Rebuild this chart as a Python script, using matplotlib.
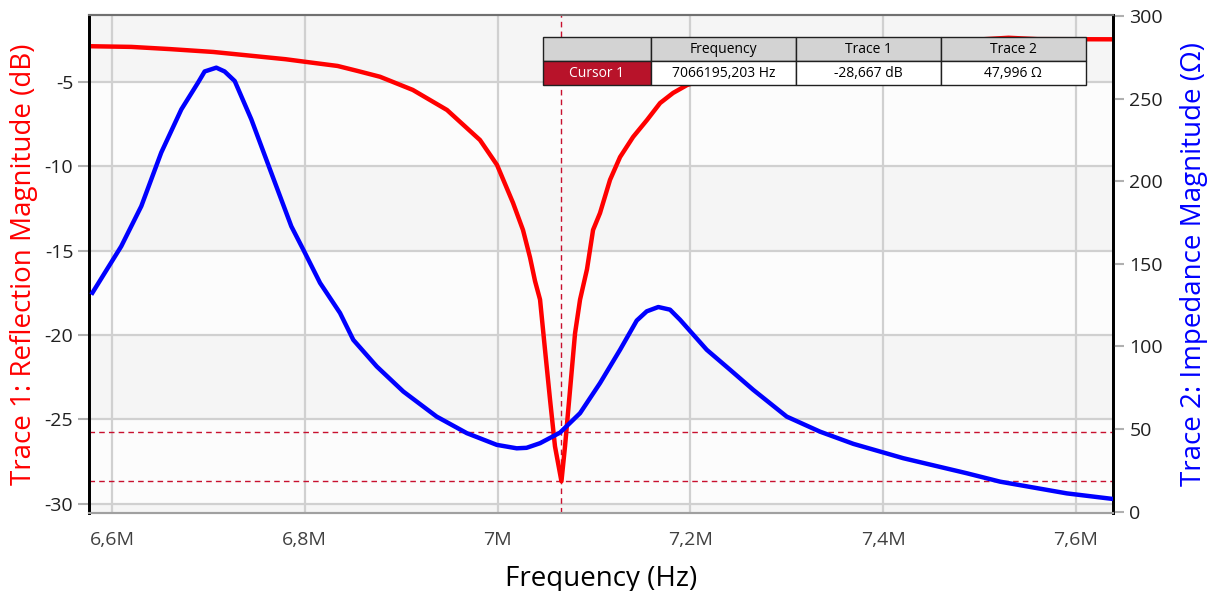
import numpy as np
import matplotlib.pyplot as plt
from matplotlib.ticker import FuncFormatter, MultipleLocator

plt.rcParams['font.family'] = ['Open Sans', 'DejaVu Sans']
plt.rcParams['axes.unicode_minus'] = False

# Trace 1: reflection magnitude (dB) vs frequency (MHz)
refl_freq = [6.577, 6.62, 6.66, 6.705, 6.74, 6.78, 6.80, 6.834, 6.855, 6.878,
             6.912, 6.9475, 6.9817, 6.9994, 7.016, 7.0263, 7.0336, 7.0388,
             7.044, 7.0492, 7.0544, 7.0595, 7.0662, 7.0699, 7.0751, 7.0803,
             7.0855, 7.0927, 7.099, 7.1062, 7.1166, 7.127, 7.1405, 7.155,
             7.1685, 7.182, 7.1965, 7.25, 7.30, 7.38, 7.45, 7.50, 7.53,
             7.56, 7.639]
refl_db = [-2.88, -2.92, -3.05, -3.22, -3.42, -3.65, -3.80, -4.05, -4.35, -4.69,
           -5.47, -6.66, -8.44, -9.92, -12.17, -13.77, -15.4, -16.8,
           -17.9, -20.9, -23.85, -26.6, -28.667, -26.6, -23.26, -19.9,
           -17.9, -16.1, -13.77, -12.77, -10.8, -9.45, -8.26, -7.25,
           -6.25, -5.65, -5.18, -4.2, -3.6, -3.0, -2.6, -2.48, -2.38,
           -2.46, -2.47]

# Trace 2: impedance magnitude (ohm) vs frequency (MHz)
imp_freq = [6.5785, 6.6096, 6.6304, 6.6511, 6.6719, 6.6892, 6.6961, 6.7082,
            6.7168, 6.7273, 6.7445, 6.7652, 6.786, 6.7984, 6.8158, 6.8365,
            6.8503, 6.8746, 6.9022, 6.9368, 6.968, 6.9991, 7.0198, 7.030,
            7.044, 7.0647, 7.0855, 7.1062, 7.127, 7.1443, 7.1547, 7.1667,
            7.1788, 7.1892, 7.2169, 7.2411, 7.2652, 7.2999, 7.3344, 7.369,
            7.4208, 7.4866, 7.5212, 7.5904, 7.6384]
imp_ohm = [131.4, 160.7, 185.0, 217.5, 243.6, 259.8, 266.6, 268.9,
           266.6, 260.8, 237.6, 205.2, 172.8, 158.7, 138.5, 120.3,
           104.0, 87.9, 72.7, 57.5, 47.5, 40.4, 38.3, 38.6,
           41.4, 47.8, 59.6, 77.8, 98.0, 115.7, 121.3, 123.9,
           122.3, 116.2, 98.0, 85.9, 73.7, 57.5, 48.4, 41.0,
           32.3, 23.2, 18.1, 11.0, 7.6]

# Cursor readout
cursor_hz = 7066195.203
cursor_db = -28.667
cursor_ohm = 47.996

table_cols = ['', 'Frequency', 'Trace 1', 'Trace 2']
table_row = ['Cursor 1', '7066195,203 Hz', '-28,667 dB', '47,996 \u03a9']

fig = plt.figure(figsize=(12.09, 5.91), dpi=100)
ax = fig.add_axes([0.0739, 0.1325, 0.8470, 0.8421])
ax2 = ax.twinx()

xmin, xmax = 6.5765e6, 7.6387e6
ax.set_xlim(xmin, xmax)
ax.set_ylim(-30.53, -1.03)
ax2.set_ylim(-0.7, 300.8)

# alternating background bands between the dB grid lines
edges = [-30.53, -30, -25, -20, -15, -10, -5, -1.03]
for i in range(len(edges) - 1):
    c = '#f5f5f5' if i % 2 == 0 else '#fcfcfc'
    ax.axhspan(edges[i], edges[i + 1], color=c, zorder=0, lw=0)

ax.set_axisbelow(True)
ax.grid(True, color='#d0d0d0', lw=1.6)
ax.xaxis.set_major_locator(MultipleLocator(0.2e6))
ax.yaxis.set_major_locator(MultipleLocator(5))
ax2.yaxis.set_major_locator(MultipleLocator(50))


def mhz_fmt(v, pos):
    s = f'{v / 1e6:.1f}'.rstrip('0').rstrip('.')
    return s.replace('.', ',') + 'M'


ax.xaxis.set_major_formatter(FuncFormatter(mhz_fmt))

hz_refl = np.array(refl_freq) * 1e6
hz_imp = np.array(imp_freq) * 1e6

# cursor markers
dash = dict(color='#c8102e', lw=1.0, ls=(0, (4, 3)))
ax.axvline(cursor_hz, zorder=2, **dash)
ax.axhline(cursor_db, zorder=2, **dash)
ax2.axhline(cursor_ohm, zorder=2, **dash)

ax.plot(hz_refl, refl_db, color='#ff0000', lw=3.2, zorder=3,
        solid_joinstyle='round', solid_capstyle='butt')
ax2.plot(hz_imp, imp_ohm, color='#0000ff', lw=3.2, zorder=3,
         solid_joinstyle='round', solid_capstyle='butt')

ax.set_xlabel('Frequency (Hz)', fontsize=20, labelpad=12)
ax.set_ylabel('Trace 1: Reflection Magnitude (dB)', fontsize=20, color='#ff0000', labelpad=5)
ax2.set_ylabel('Trace 2: Impedance Magnitude (\u03a9)', fontsize=20, color='#0000ff', labelpad=12)

ax.tick_params(axis='x', labelsize=14, labelcolor='#404040', length=0, pad=13)
ax.tick_params(axis='y', labelsize=14, labelcolor='#202020', color='#b0b0b0', length=8, width=1.5)
ax2.tick_params(axis='y', labelsize=14, labelcolor='#202020', color='#b0b0b0', length=8, width=1.5)

for a in (ax, ax2):
    a.spines['left'].set_color('#000000')
    a.spines['left'].set_linewidth(2)
    a.spines['right'].set_color('#000000')
    a.spines['right'].set_linewidth(2)
    a.spines['top'].set_color('#707070')
    a.spines['top'].set_linewidth(1.5)
    a.spines['bottom'].set_color('#a0a0a0')
    a.spines['bottom'].set_linewidth(1.5)

# cursor readout table
tbl = ax2.table(cellText=[table_row], colLabels=table_cols,
                colWidths=[108, 145, 145, 145], cellLoc='center',
                bbox=[0.443, 0.8593, 0.530, 0.0965], zorder=10)
tbl.auto_set_font_size(False)
for (r, c), cell in tbl.get_celld().items():
    cell.set_edgecolor('#202020')
    cell.set_linewidth(1.0)
    cell.get_text().set_fontsize(10)
    if r == 0:
        cell.set_facecolor('#d3d3d3')
    elif c == 0:
        cell.set_facecolor('#b8132a')
        cell.get_text().set_color('white')
    else:
        cell.set_facecolor('white')

fig.savefig('out.png', dpi=100)
